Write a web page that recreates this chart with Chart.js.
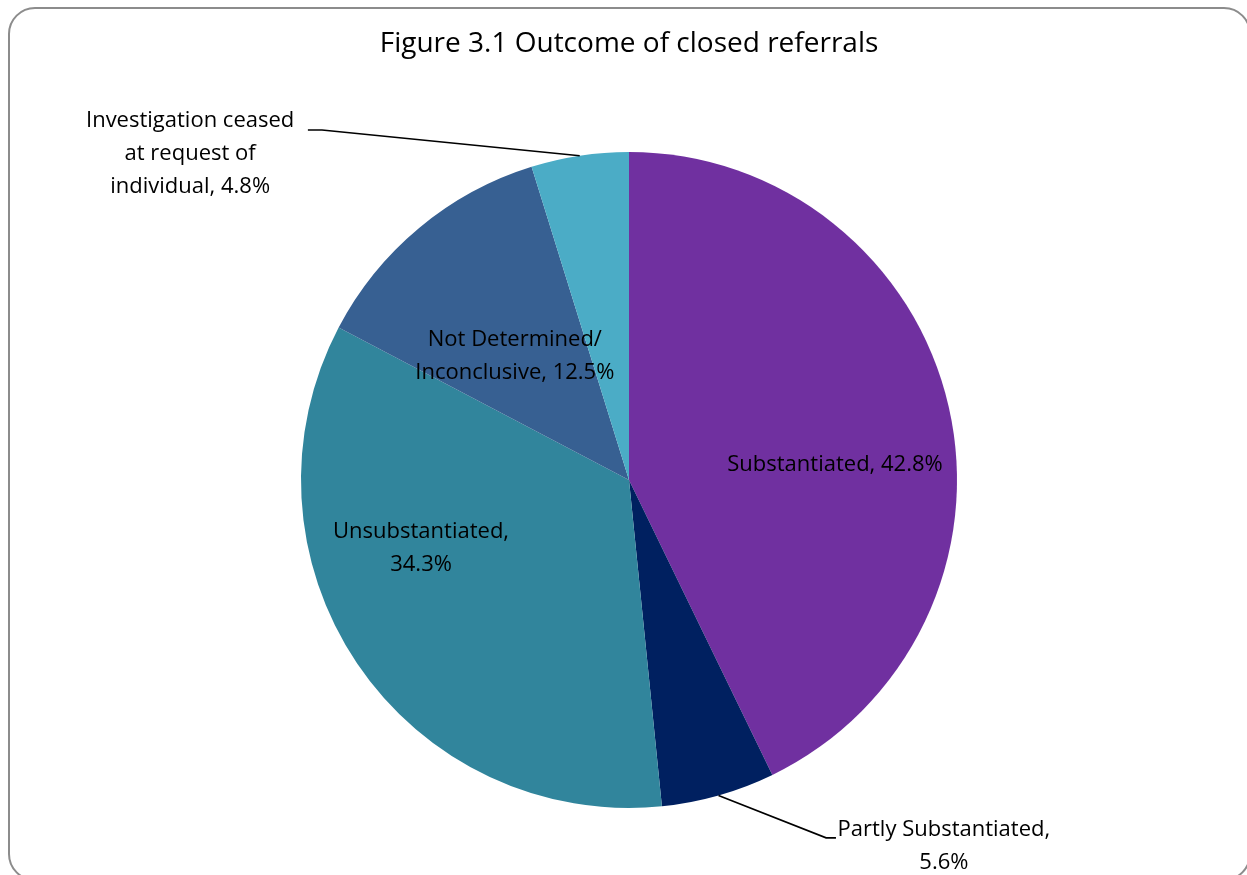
<!DOCTYPE html>
<html>
<head>
<meta charset="utf-8">
<script src="https://cdn.jsdelivr.net/npm/chart.js@4.4.1/dist/chart.umd.min.js"></script>
<style>
  html, body { margin: 0; padding: 0; background: #fff; }
  #wrap { width: 1247px; height: 875px; position: relative; }
</style>
</head>
<body>
<div id="wrap"><canvas id="pieChart" width="1247" height="875"></canvas></div>
<script>
// Data
const categories = ['Substantiated', 'Partly Substantiated', 'Unsubstantiated', 'Not Determined/ Inconclusive', 'Investigation ceased at request of individual'];
const shares = [42.8, 5.6, 34.3, 12.5, 4.8];
const labelLines = [
    ['Substantiated, 42.8%'],
    ['Partly Substantiated,', '5.6%'],
    ['Unsubstantiated,', '34.3%'],
    ['Not Determined/', 'Inconclusive, 12.5%'],
    ['Investigation ceased', 'at request of', 'individual, 4.8%']
];
const colors = ['#7030A0', '#002060', '#31859C', '#376092', '#4BACC6'];

// label block centres relative to pie centre, in units of radius
const labelPos = [[0.628, -0.046], [0.96, 1.116], [-0.634, 0.207], [-0.348, -0.378], [-1.338, -0.994]];
// leader lines (elbow + end), in units of radius; null = no leader
const leaders = [null, [[0.601, 1.091], [0.631, 1.091]], null, null, [[-0.936, -1.067], [-0.979, -1.067]]];

const FONT = '"Open Sans", "Noto Sans", sans-serif';

const decor = {
    id: 'decor',
    beforeDraw(chart) {
        const ctx = chart.ctx;
        ctx.save();
        ctx.fillStyle = '#fff';
        ctx.fillRect(0, 0, chart.width, chart.height);
        ctx.strokeStyle = '#8c8c8c';
        ctx.lineWidth = 2;
        ctx.beginPath();
        ctx.roundRect(9, 8, 1241, 872, 26);
        ctx.stroke();
        ctx.fillStyle = '#000';
        ctx.font = '28px ' + FONT;
        ctx.textAlign = 'center';
        ctx.textBaseline = 'middle';
        ctx.fillText('Figure 3.1 Outcome of closed referrals', 629, 44);
        ctx.restore();
    },
    afterDatasetsDraw(chart) {
        const ctx = chart.ctx;
        const meta = chart.getDatasetMeta(0);
        ctx.save();
        ctx.font = '22px ' + FONT;
        ctx.fillStyle = '#000';
        ctx.textAlign = 'center';
        ctx.textBaseline = 'middle';
        meta.data.forEach((arc, i) => {
            const R = arc.outerRadius;
            const cx = arc.x, cy = arc.y;
            const lines = labelLines[i];
            const lh = 33;
            const bx = cx + labelPos[i][0] * R;
            const by = cy + labelPos[i][1] * R;
            lines.forEach((t, k) => {
                ctx.fillText(t, bx, by + (k - (lines.length - 1) / 2) * lh);
            });
            if (leaders[i]) {
                const mid = (arc.startAngle + arc.endAngle) / 2;
                ctx.strokeStyle = '#000';
                ctx.lineWidth = 1.6;
                ctx.beginPath();
                ctx.moveTo(cx + Math.cos(mid) * R, cy + Math.sin(mid) * R);
                leaders[i].forEach(p => ctx.lineTo(cx + p[0] * R, cy + p[1] * R));
                ctx.stroke();
            }
        });
        ctx.restore();
    }
};

new Chart(document.getElementById('pieChart'), {
    type: 'pie',
    data: {
        labels: categories,
        datasets: [{
            data: shares,
            backgroundColor: colors,
            borderWidth: 0,
            hoverOffset: 0
        }]
    },
    options: {
        responsive: false,
        animation: false,
        layout: { padding: { left: 301, right: 290, top: 152, bottom: 67 } },
        plugins: {
            legend: { display: false },
            tooltip: { enabled: false },
            title: { display: false }
        }
    },
    plugins: [decor]
});
</script>
</body>
</html>
